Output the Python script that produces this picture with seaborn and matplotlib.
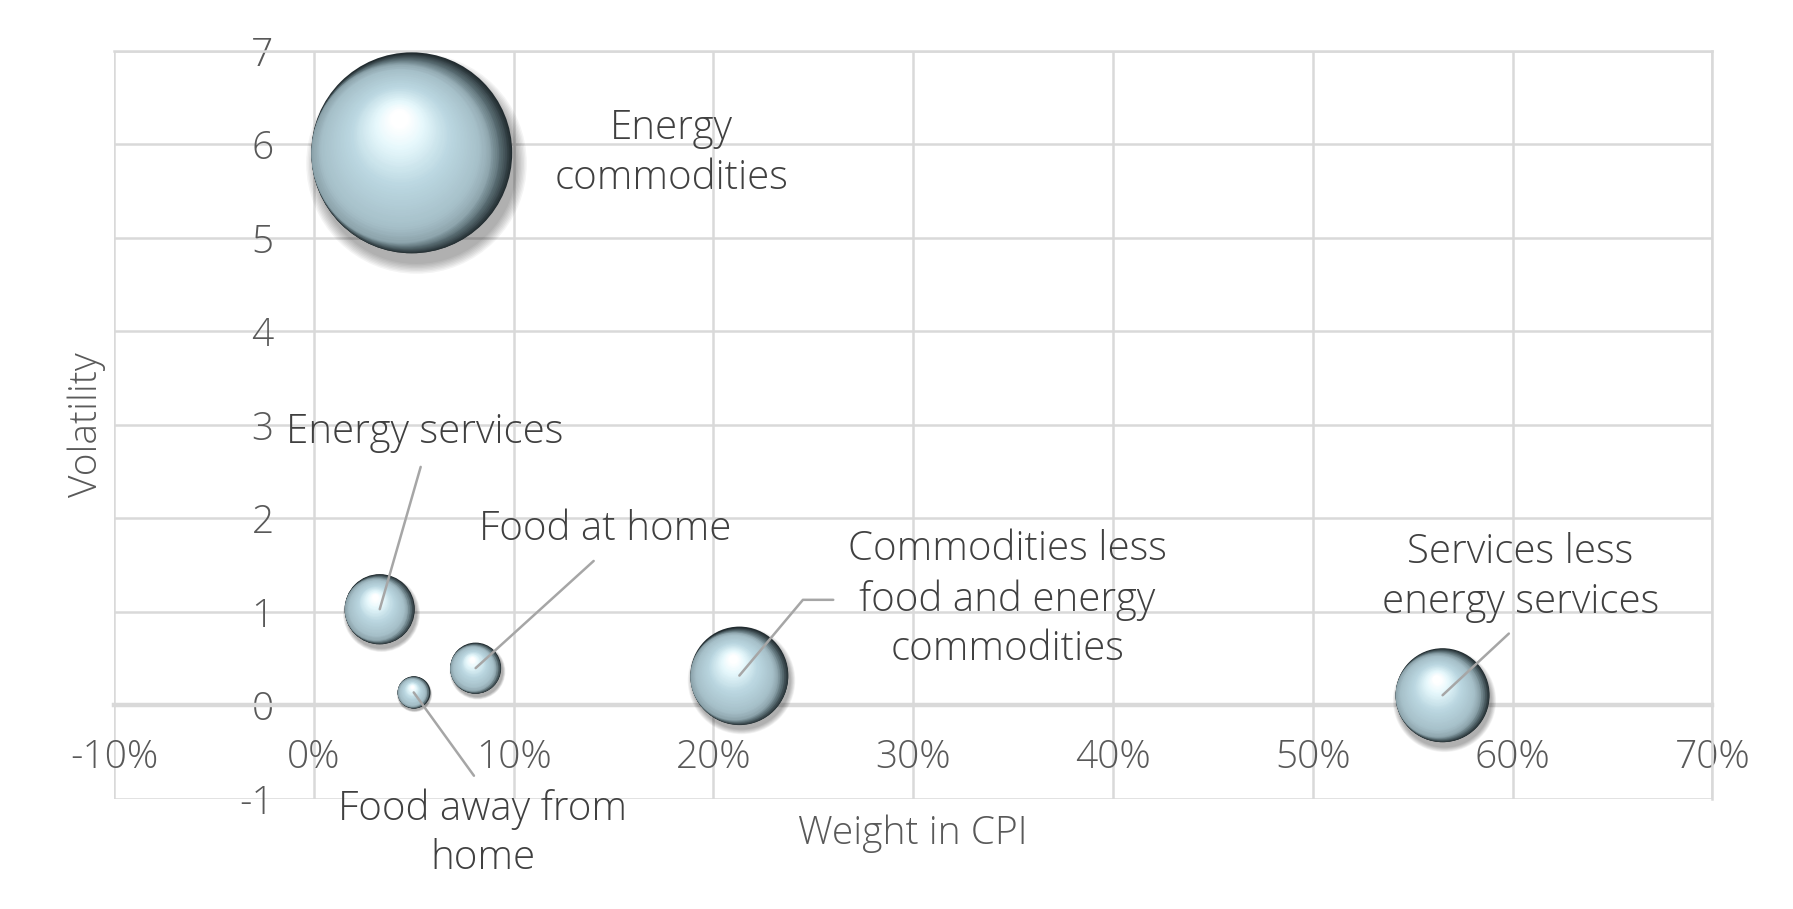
import numpy as np
import pandas as pd
import seaborn as sns
import matplotlib.pyplot as plt
from matplotlib.colors import LinearSegmentedColormap
from matplotlib.transforms import ScaledTranslation

# Volatility vs weight in CPI, bubble = size of each component

categories = ['Energy commodities', 'Energy services', 'Food at home',
              'Food away from home', 'Commodities less food and energy commodities',
              'Services less energy services']
weight = [0.049, 0.033, 0.081, 0.050, 0.213, 0.565]
volatility = [5.91, 1.03, 0.40, 0.14, 0.32, 0.11]
bubble_size = [10.1, 1.23, 0.65, 0.26, 2.40, 2.21]

label_text = ['Energy\ncommodities', 'Energy services', 'Food at home',
              'Food away from\nhome', 'Commodities less\nfood and energy\ncommodities',
              'Services less\nenergy services']

x_ticks = [-0.1, 0.0, 0.1, 0.2, 0.3, 0.4, 0.5, 0.6, 0.7]
x_tick_labels = ['-10%', '0%', '10%', '20%', '30%', '40%', '50%', '60%', '70%']
y_ticks = [-1, 0, 1, 2, 3, 4, 5, 6, 7]
y_tick_labels = ['-1', '0', '1', '2', '3', '4', '5', '6', '7']

# label placement (layout only)
label_pos = [(0.179, 5.90), (0.0555, 2.92), (0.146, 1.88),
             (0.0846, -1.37), (0.347, 1.13), (0.604, 1.37)]
label_rel = [None, (0.5, 0), (0.5, 0), (0.5, 1), (0, 0.5), (0.5, 0)]
label_conn = [None, 'arc3', 'arc3', 'arc3', 'angle,angleA=0,angleB=50,rad=0', 'arc3']

df = pd.DataFrame({'category': categories, 'weight': weight,
                   'volatility': volatility, 'size': bubble_size})

sns.set_theme(style='white')
plt.rcParams['font.family'] = ['Open Sans', 'DejaVu Sans']
plt.rcParams['font.weight'] = 'light'
plt.rcParams['axes.unicode_minus'] = False
txt_color = '#404040'
fs = 28
fs_lab = 29

fig, ax = plt.subplots(figsize=(17.93, 9.09), dpi=100)
fig.subplots_adjust(left=0.0636, right=0.955, bottom=0.121, top=0.944)

k = 2073.0
s_lo, s_hi = min(bubble_size) * k, max(bubble_size) * k

# soft shadow
for _, row in df.iterrows():
    s = row['size'] * k
    r = np.sqrt(s) / 2
    off = ScaledTranslation(r * 0.04 / 72, -r * 0.10 / 72, fig.dpi_scale_trans)
    for j in range(8):
        f = 1.0 + 0.014 * j
        ax.scatter(row['weight'], row['volatility'], s=s * f * f, color='black',
                   alpha=0.045, linewidth=0, transform=ax.transData + off, zorder=3)

sns.scatterplot(data=df, x='weight', y='volatility', size='size', sizes=(s_lo, s_hi),
                color='#222c30', linewidth=0, legend=False, ax=ax, zorder=4)

# shiny sphere shading: dark rim on the right, highlight upper left
cmap = LinearSegmentedColormap.from_list('sphere', [
    (0.0, '#222c30'), (0.1, '#56696f'), (0.2, '#8fa6ae'), (0.3, '#a6c0c9'),
    (0.6, '#bcd8e2'), (0.85, '#e6f8fc'), (1.0, '#ffffff')])
n_layers = 70
for _, row in df.iterrows():
    s = row['size'] * k
    r = np.sqrt(s) / 2
    for j in range(1, n_layers):
        t = j / (n_layers - 1)
        if t <= 0.2:
            u = t / 0.2
            f = 1.0 - 0.11 * u
            c = np.array([-0.11 * u, 0.0])
        else:
            u = (t - 0.2) / 0.8
            f = 0.89 - 0.80 * u
            c = np.array([-0.11 - 0.02 * u, 0.34 * u])
        off = ScaledTranslation(c[0] * r / 72, c[1] * r / 72, fig.dpi_scale_trans)
        ax.scatter(row['weight'], row['volatility'], s=s * f * f, color=cmap(t),
                   linewidth=0, transform=ax.transData + off, zorder=5)

for i, (lx, ly) in enumerate(label_pos):
    if label_rel[i] is None:
        ax.text(lx, ly, label_text[i], ha='center', va='center', fontsize=fs_lab,
                color=txt_color, linespacing=1.28, zorder=7)
    else:
        ax.annotate(label_text[i], xy=(weight[i], volatility[i]), xytext=(lx, ly),
                    ha='center', va='center', fontsize=fs_lab, color=txt_color,
                    linespacing=1.28, zorder=7,
                    arrowprops=dict(arrowstyle='-', color='#a6a6a6', lw=1.8,
                                    relpos=label_rel[i], shrinkA=8, shrinkB=0,
                                    connectionstyle=label_conn[i]))

ax.set_xlim(-0.1, 0.7)
ax.set_ylim(-1, 7)
ax.set_xticks(x_ticks)
ax.set_xticklabels(x_tick_labels)
ax.set_yticks(y_ticks)
ax.set_yticklabels(y_tick_labels)
ax.set_xlabel('')
ax.set_ylabel('')

ax.grid(True, color='#d9d9d9', linewidth=1.8)
ax.set_axisbelow(True)
for line in ax.get_xgridlines() + ax.get_ygridlines():
    line.set_clip_on(False)

ax.spines['bottom'].set_position(('data', 0))
ax.spines['bottom'].set_color('#d9d9d9')
ax.spines['bottom'].set_linewidth(3.2)
ax.spines['left'].set_position(('data', 0))
ax.spines['left'].set_visible(False)
for side in ['top', 'right']:
    ax.spines[side].set_color('#d9d9d9')
    ax.spines[side].set_linewidth(1.8)

ax.tick_params(axis='x', length=0, pad=24, labelsize=fs, labelcolor='#595959')
ax.tick_params(axis='y', length=0, pad=29, labelsize=fs, labelcolor='#595959')

ax.text(-0.0173, 0.5, 'Volatility', transform=ax.transAxes, rotation=90,
        ha='center', va='center', fontsize=fs, color='#595959')
ax.text(0.5, -0.046, 'Weight in CPI', transform=ax.transAxes,
        ha='center', va='center', fontsize=fs, color='#595959')

fig.savefig('out.png', dpi=100)
